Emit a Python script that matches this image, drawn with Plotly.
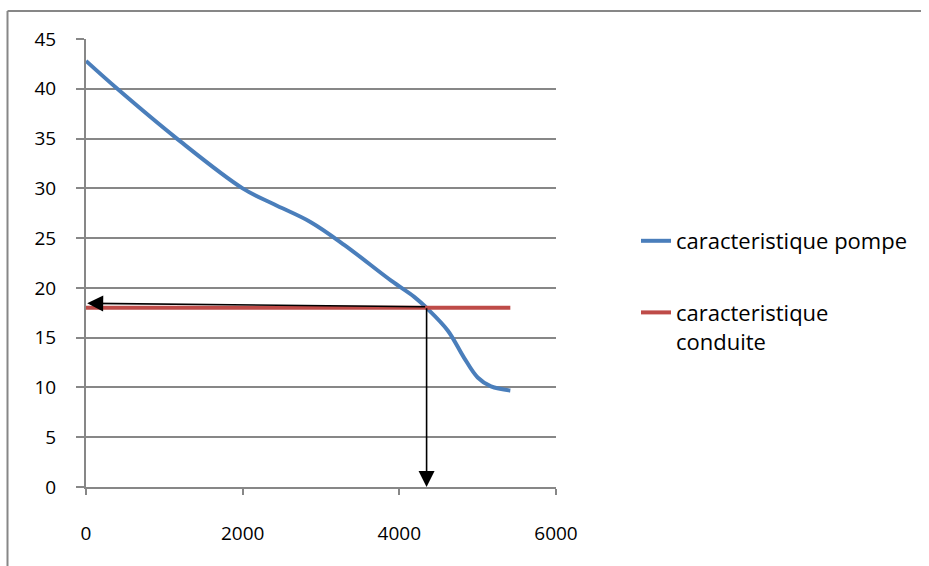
import plotly.graph_objects as go

# --- data ---
pump_q = [0, 400, 1160, 2000, 2400, 2870, 3300, 3900, 4190, 4360, 4620, 4825, 5000, 5170, 5417]
pump_h = [42.8, 40.0, 35.0, 30.0, 28.4, 26.6, 24.3, 20.7, 19.1, 17.9, 15.7, 13.0, 11.0, 10.1, 9.7]
pipe_q = [0, 5417]
pipe_h = [18.0, 18.0]
op_q = 4348          # operating point flow
op_h = 18.1          # operating point head
arrow_tip_h = 18.45  # left arrow tip height
x_ticks = [0, 2000, 4000, 6000]
y_ticks = [0, 5, 10, 15, 20, 25, 30, 35, 40, 45]

FONT = "Open Sans"
GRID = "#878787"

fig = go.Figure()
fig.add_trace(go.Scatter(x=pump_q, y=pump_h, mode="lines", name="caracteristique pompe",
                         line=dict(color="#4A7EBB", width=4, shape="spline", smoothing=1.0),
                         legendgroup="a"))
fig.add_trace(go.Scatter(x=pipe_q, y=pipe_h, mode="lines", name="caracteristique<br>conduite",
                         line=dict(color="#BE4B48", width=4), legendgroup="b"))

# arrows from operating point
fig.add_annotation(x=15, y=arrow_tip_h, ax=op_q, ay=op_h, xref="x", yref="y", axref="x", ayref="y",
                   text="", showarrow=True, arrowhead=2, arrowsize=2, arrowwidth=1.6, arrowcolor="black")
fig.add_annotation(x=op_q, y=0, ax=op_q, ay=op_h, xref="x", yref="y", axref="x", ayref="y",
                   text="", showarrow=True, arrowhead=2, arrowsize=2, arrowwidth=1.6, arrowcolor="black")

# chart border (left and top)
L, R, T, B = 86, 373, 39, 79
W, H = 929, 566
pw, ph = W - L - R, H - T - B
def px2x(p): return (p - L) / pw
def py2y(p): return (H - B - p) / ph
fig.add_shape(type="line", xref="paper", yref="paper", x0=px2x(7.5), x1=px2x(7.5), y0=py2y(11), y1=py2y(570),
              line=dict(color=GRID, width=2))
fig.add_shape(type="line", xref="paper", yref="paper", x0=px2x(7.5), x1=px2x(921), y0=py2y(11), y1=py2y(11),
              line=dict(color=GRID, width=2))

fig.update_layout(
    width=W, height=H,
    margin=dict(l=L, r=R, t=T, b=B),
    paper_bgcolor="white", plot_bgcolor="white",
    font=dict(family=FONT, size=19, color="black"),
    showlegend=True,
    legend=dict(x=px2x(636), y=py2y(220), xanchor="left", yanchor="top",
                font=dict(family=FONT, size=22, color="black"),
                valign="top", tracegroupgap=40, bgcolor="rgba(0,0,0,0)"),
    xaxis=dict(range=[0, 6000], tickvals=x_ticks, showgrid=False, zeroline=False,
               showline=True, linecolor=GRID, linewidth=2,
               ticks="outside", ticklen=6, tickwidth=2, tickcolor=GRID,
               ticklabelstandoff=22),
    yaxis=dict(range=[0, 45], tickvals=y_ticks, showgrid=True, gridcolor=GRID, gridwidth=1.5,
               zeroline=False, showline=True, linecolor=GRID, linewidth=2,
               ticks="outside", ticklen=8, tickwidth=2, tickcolor=GRID,
               ticklabelstandoff=16),
)

fig.write_html("out.html")
